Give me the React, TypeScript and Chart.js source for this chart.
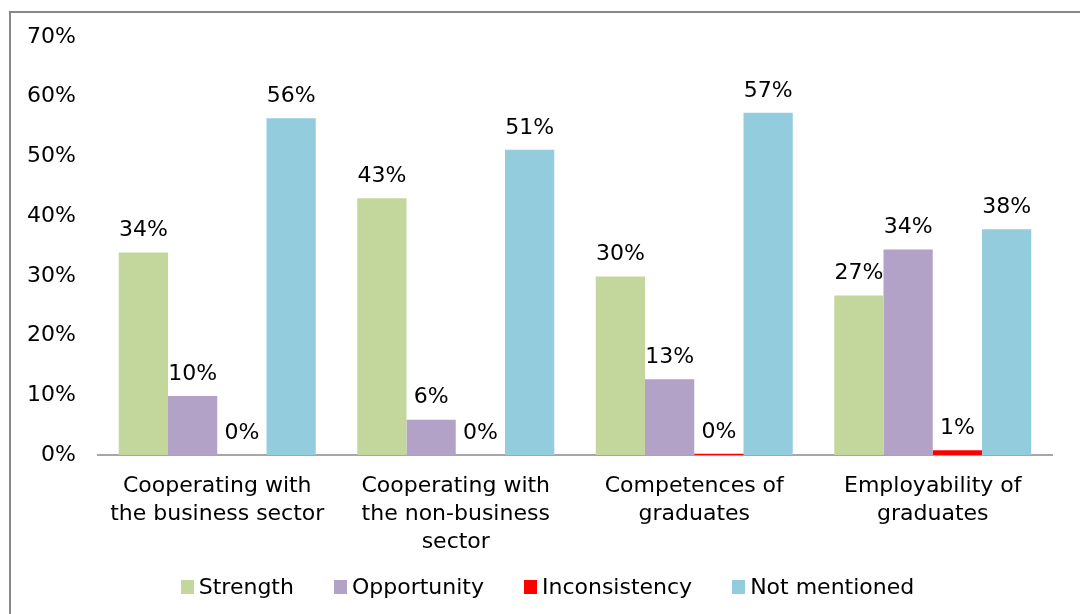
import React, { useEffect, useRef } from "react";
import { Chart, registerables } from "chart.js";

Chart.register(...registerables);

const categories: string[][] = [
  ["Cooperating with", "the business sector"],
  ["Cooperating with", "the non-business", "sector"],
  ["Competences of", "graduates"],
  ["Employability of", "graduates"],
];
const seriesNames = ["Strength", "Opportunity", "Inconsistency", "Not mentioned"];
const strength = [33.9, 43.0, 29.9, 26.7];
const opportunity = [9.9, 5.9, 12.7, 34.4];
const inconsistency = [0, 0, 0.2, 0.8];
const notMentioned = [56.4, 51.1, 57.3, 37.8];
const colors = ["#c3d69b", "#b3a2c7", "#ff0000", "#93cddd"];
const yTicks = [0, 10, 20, 30, 40, 50, 60, 70];

const FONT = "'DejaVu Sans', Verdana, sans-serif";

const labelPlugin = {
  id: "barLabels",
  afterDatasetsDraw(chart: any) {
    const ctx = chart.ctx;
    ctx.save();
    ctx.font = `22px ${FONT}`;
    ctx.fillStyle = "#000";
    ctx.textAlign = "center";
    ctx.textBaseline = "middle";
    chart.data.datasets.forEach((ds: any, di: number) => {
      const meta = chart.getDatasetMeta(di);
      meta.data.forEach((bar: any, i: number) => {
        const v = ds.data[i];
        ctx.fillText(Math.round(v) + "%", bar.x, bar.y - 22);
      });
    });
    ctx.restore();
  },
};

export default function App() {
  const ref = useRef<HTMLCanvasElement>(null);
  useEffect(() => {
    const data = [strength, opportunity, inconsistency, notMentioned];
    const chart = new Chart(ref.current!, {
      type: "bar",
      data: {
        labels: categories,
        datasets: seriesNames.map((n, i) => ({
          label: n,
          data: data[i],
          backgroundColor: colors[i],
          borderWidth: 0,
          categoryPercentage: 0.826,
          barPercentage: 1.0,
        })),
      },
      options: {
        animation: false,
        responsive: false,
        maintainAspectRatio: false,
        layout: { padding: { left: 14, right: 28, top: 37, bottom: 59 } },
        plugins: {
          legend: { display: false },
          tooltip: { enabled: false },
        },
        scales: {
          x: {
            grid: { display: false },
            border: { display: true, color: "#a6a6a6", width: 2 },
            ticks: {
              color: "#000",
              font: { family: FONT, size: 22, lineHeight: 1.27 },
              padding: 9,
              maxRotation: 0,
              autoSkip: false,
            },
            afterFit: (s: any) => {
              s.height = 100;
            },
          },
          y: {
            min: 0,
            max: 70,
            grid: { display: false },
            border: { display: false },
            afterBuildTicks: (s: any) => {
              s.ticks = yTicks.map((v) => ({ value: v }));
            },
            ticks: {
              color: "#000",
              font: { family: FONT, size: 22 },
              padding: 14,
              callback: (v: any) => v + "%",
            },
            afterFit: (s: any) => {
              s.width = 84;
            },
          },
        },
      },
      plugins: [labelPlugin],
    });
    return () => chart.destroy();
  }, []);
  return (
    <div
      style={{
        position: "fixed",
        left: 0,
        top: 0,
        width: 1080,
        height: 614,
        overflow: "hidden",
        background: "#fff",
      }}
    >
      <div
        style={{
          position: "absolute",
          left: 9,
          top: 11,
          width: 1200,
          height: 700,
          border: "2px solid #888",
        }}
      />
      <canvas
        ref={ref}
        width={1080}
        height={614}
        style={{ position: "absolute", left: 0, top: 0, width: 1080, height: 614 }}
      />
      <div
        style={{
          position: "absolute",
          left: 0,
          width: 1095,
          top: 574,
          height: 26,
          display: "flex",
          justifyContent: "center",
          alignItems: "center",
          fontFamily: FONT,
          fontSize: 22,
          lineHeight: "26px",
          color: "#000",
          gap: 40,
        }}
      >
        {seriesNames.map((n, i) => (
          <div key={n} style={{ display: "flex", alignItems: "center" }}>
            <span
              style={{
                display: "inline-block",
                width: 13,
                height: 14,
                background: colors[i],
                marginRight: 5,
              }}
            />
            <span>{n}</span>
          </div>
        ))}
      </div>
    </div>
  );
}
